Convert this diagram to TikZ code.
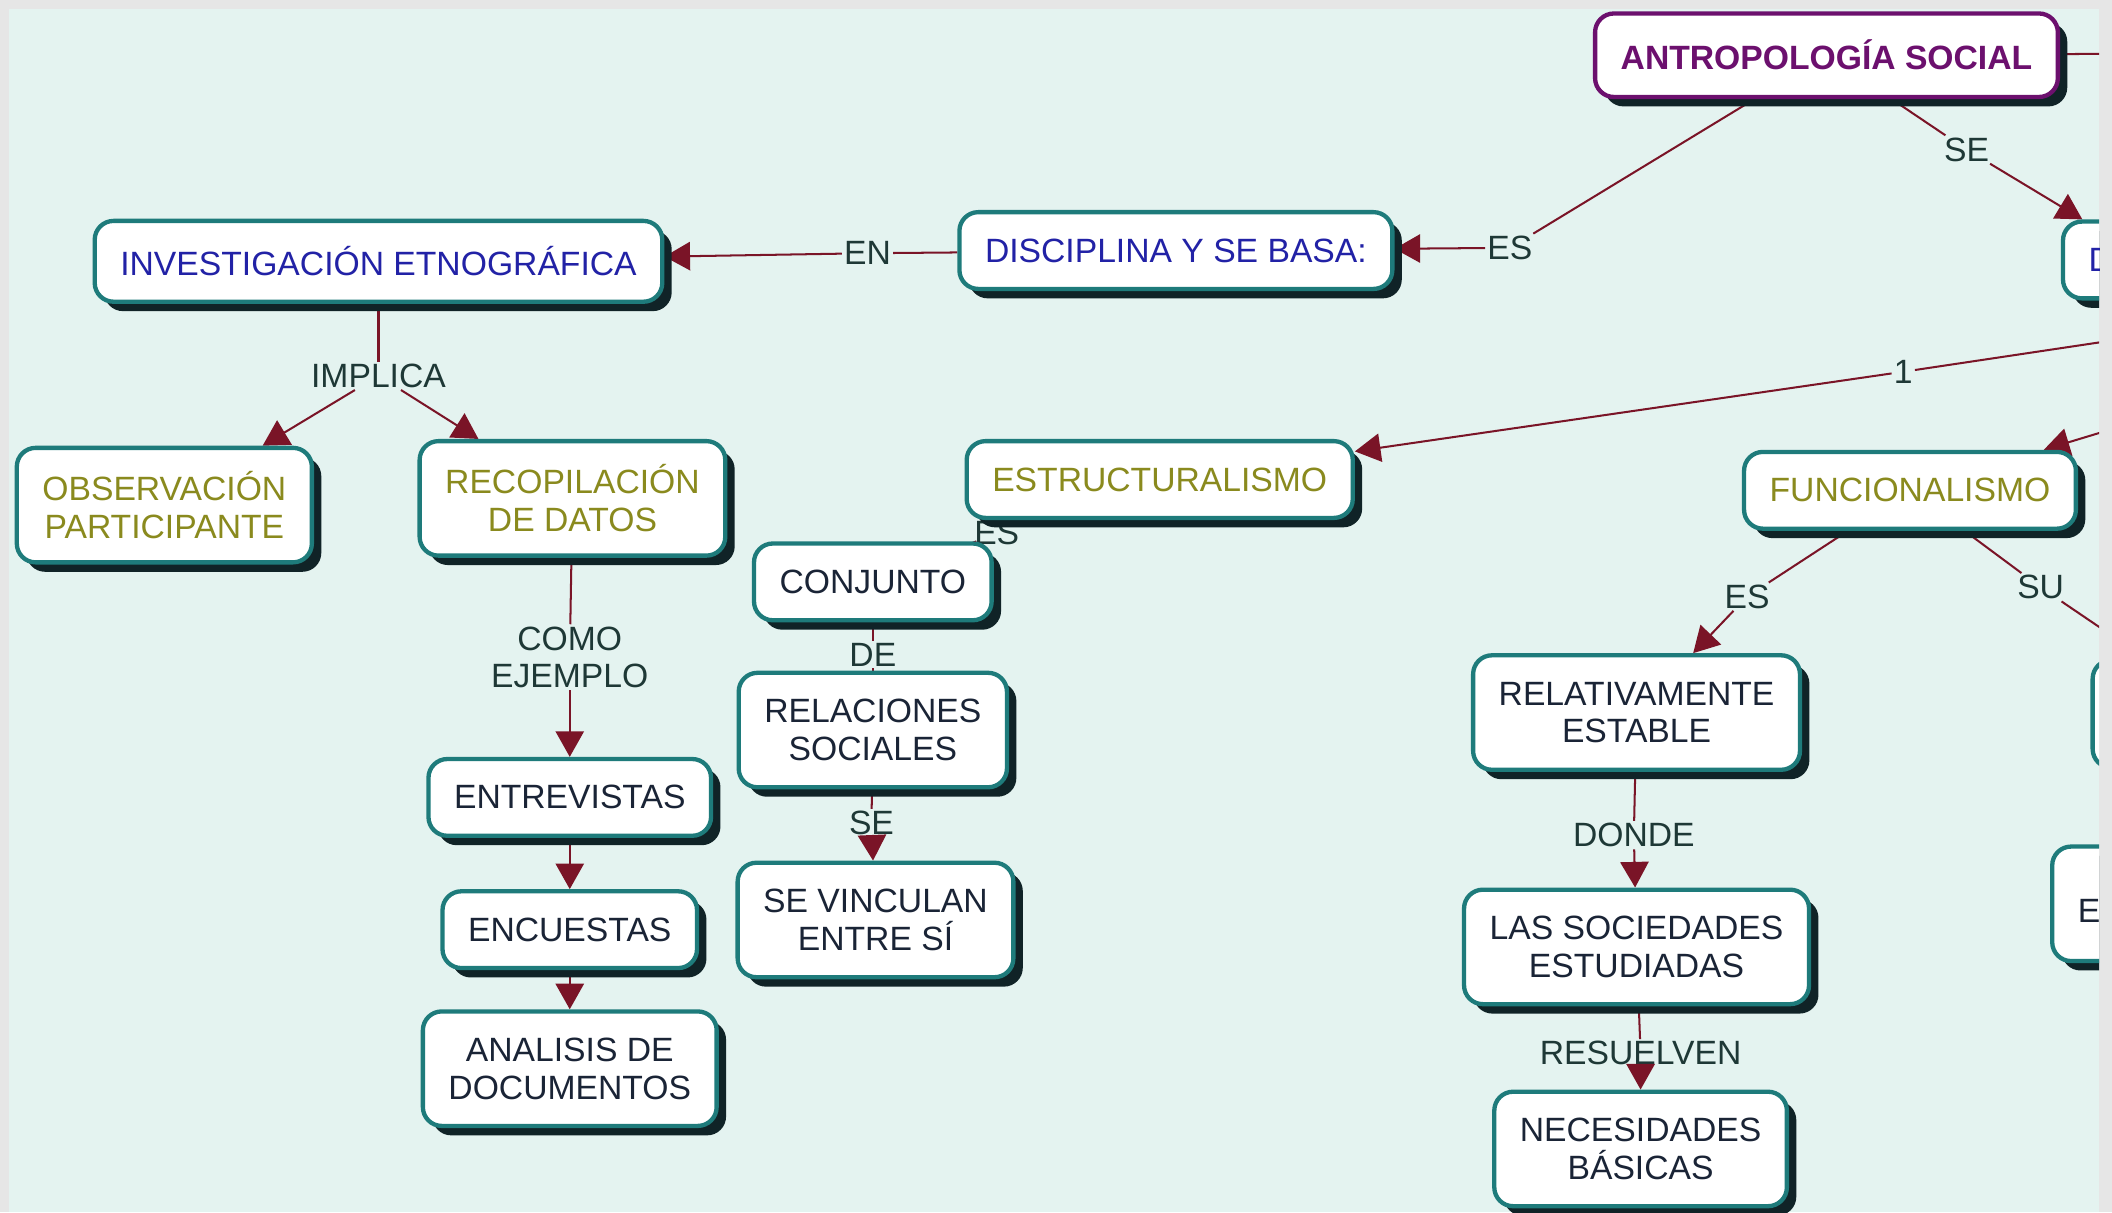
\documentclass[tikz,border=0pt]{standalone}
\usepackage{fontspec}
\setmainfont{Liberation Sans}
\usetikzlibrary{arrows.meta,shadows,positioning}
\definecolor{pagegray}{HTML}{E6E6E6}
\definecolor{mapbg}{HTML}{E4F3F0}
\definecolor{boxline}{HTML}{1E7B7B}
\definecolor{boxshade}{HTML}{102327}
\definecolor{linkred}{HTML}{7A1427}
\definecolor{linktext}{HTML}{1E3836}
\definecolor{oliveink}{HTML}{8A8A1E}
\definecolor{blueink}{HTML}{2222A6}
\definecolor{darkink}{HTML}{1A2436}
\definecolor{plumink}{HTML}{6C106E}
\pgfdeclarelayer{back}
\pgfsetlayers{back,main}

\begin{document}
\begin{tikzpicture}[x=1pt,y=-1pt,font=\fontsize{25}{28}\selectfont,
    box/.style={draw=boxline,line width=3.2pt,fill=white,rounded corners=14pt,
      align=center,text=darkink,inner xsep=19pt,inner ysep=9pt,minimum height=57pt,
      general shadow={fill=boxshade,shadow xshift=7pt,shadow yshift=-7pt}},
    two/.style={minimum height=85pt},
    root/.style={box,draw=plumink,text=plumink,minimum height=62pt,
      font=\fontsize{25}{28}\selectfont\bfseries},
    blue/.style={box,text=blueink},olive/.style={box,text=oliveink},
    cut/.style={box,align=left,text width=200pt},
    lbl/.style={text=linktext,inner sep=1.5pt,align=center},
    ln/.style={draw=linkred,line width=1.5pt},
    arj/.style={ln,-{Triangle[length=19pt,width=21pt]}}]
  \useasboundingbox (0,0) rectangle (1568,900);
  \begin{pgfonlayer}{back}
    \fill[pagegray] (0,0) rectangle (1568,900);
    \fill[mapbg] (6.5,6.5) rectangle (1558.5,900);
  \end{pgfonlayer}
  \clip (6.5,6.5) rectangle (1558.5,900);

  \node[root] (antro) at (1356,41) {ANTROPOLOGÍA SOCIAL};
  \node[blue] (disc) at (873,186) {DISCIPLINA Y SE BASA:};
  \node[blue,minimum height=60pt] (inv) at (281,194) {INVESTIGACIÓN ETNOGRÁFICA};
  \node[olive,two] (obs) at (122,375) {OBSERVACIÓN\\PARTICIPANTE};
  \node[olive,two] (reco) at (425,370) {RECOPILACIÓN\\DE DATOS};
  \node[box] (entr) at (423,592) {ENTREVISTAS};
  \node[box,below=38pt of entr] (encu) {ENCUESTAS};
  \node[box,two,below=29pt of encu] (anal) {ANALISIS DE\\DOCUMENTOS};
  \node[olive] (estr) at (861,356) {ESTRUCTURALISMO};
  \node[box] (conj) at (648,432) {CONJUNTO};
  \node[box,two] (rela) at (648,542) {RELACIONES\\SOCIALES};
  \node[box,two] (vinc) at (650,683) {SE VINCULAN\\ENTRE SÍ};
  \node[olive] (func) at (1418,364) {FUNCIONALISMO};
  \node[box,two] (rel) at (1215,529) {RELATIVAMENTE\\ESTABLE};
  \node[box,two] (soc) at (1215,703) {LAS SOCIEDADES\\ESTUDIADAS};
  \node[box,two] (nec) at (1218,853) {NECESIDADES\\BÁSICAS};
  \node[cut,text=blueink,anchor=west] (dnode) at (1530,193) {D};
  \node[box,minimum width=200pt,minimum height=80pt,anchor=west] (rnode) at (1552,530) {};
  \node[cut,two,anchor=west] (enode) at (1522,671) {\mbox{}\\E};
  \coordinate (r0) at (1560,40);
  \coordinate (r1) at (1560,254);
  \coordinate (r2) at (1560,321);

  \begin{pgfonlayer}{back}
  \begin{scope}
    \clip (6.5,6.5) rectangle (1558.5,900);
    \node[lbl] (es1) at (1121,184) {ES};
    \node[lbl] (se1) at (1460,111) {SE};
    \node[lbl] (en) at (644,188) {EN};
    \node[lbl] (impl) at (281,279) {IMPLICA};
    \node[lbl] (one) at (1413,276) {1};
    \node[lbl] (como) at (423,488) {COMO\\EJEMPLO};
    \node[lbl] (es2) at (740,396) {ES};
    \node[lbl] (de) at (648,486) {DE};
    \node[lbl] (se2) at (647,611) {SE};
    \node[lbl] (es3) at (1297,443) {ES};
    \node[lbl] (su) at (1515,436) {SU};
    \node[lbl] (donde) at (1213,620) {DONDE};
    \node[lbl] (resu) at (1218,782) {RESUELVEN};

    \draw[ln] (antro) -- (r0);
    \draw[ln] (antro) -- (es1);
    \draw[arj] (es1) -- (disc);
    \draw[ln] (antro) -- (se1);
    \draw[arj] (se1) -- ([xshift=16pt]dnode.north west);
    \draw[ln] (disc) -- (en);
    \draw[arj] (en) -- (inv);
    \draw[ln] (inv) -- (impl);
    \draw[arj] (impl) -- (obs);
    \draw[arj] (impl) -- (reco);
    \draw[ln] (reco) -- (como);
    \draw[arj] (como) -- (entr);
    \draw[arj] (entr) -- (encu);
    \draw[arj] (encu) -- (anal);
    \draw[ln] (r1) -- (one);
    \draw[arj] (one) -- (estr);
    \draw[ln] (estr) -- (es2);
    \draw[ln] (es2) -- (conj);
    \draw[ln] (conj) -- (de);
    \draw[ln] (de) -- (rela);
    \draw[ln] (rela) -- (se2);
    \draw[arj] (se2) -- (vinc);
    \draw[arj] (r2) -- (func);
    \draw[ln] (func) -- (es3);
    \draw[arj] (es3) -- (rel);
    \draw[ln] (func) -- (su);
    \draw[arj] (su) -- (rnode);
    \draw[ln] (rel) -- (donde);
    \draw[arj] (donde) -- (soc);
    \draw[ln] (soc) -- (resu);
    \draw[arj] (resu) -- (nec);
  \end{scope}
  \end{pgfonlayer}
\end{tikzpicture}
\end{document}
